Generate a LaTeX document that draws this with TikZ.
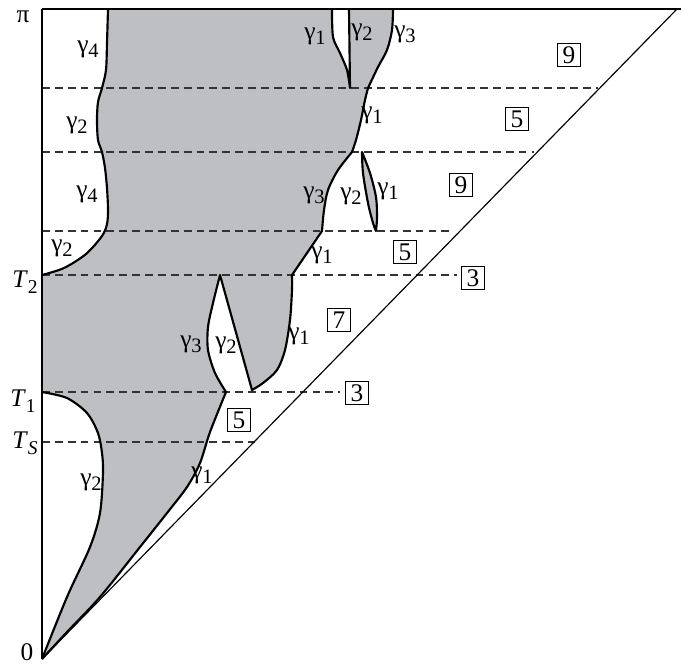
\documentclass[tikz,border=0pt]{standalone}
\usepackage{fontspec}
\setmainfont{Liberation Serif}
\definecolor{domgray}{RGB}{190,191,194}
\newcommand{\gm}[1]{γ\raisebox{-0.2em}{\fontsize{10.5}{10.5}\selectfont #1}}
\newcommand{\Tl}[1]{\textit{T}\raisebox{-0.25em}{\fontsize{10}{10}\selectfont #1}}

\begin{document}
\begin{tikzpicture}[x=0.018cm,y=-0.018cm,thick,font=\fontsize{13}{15}\selectfont]
  \tikzstyle{frame}=[line width=0.6pt]
  \tikzstyle{curve}=[line width=1.1pt, line join=round]
  \tikzstyle{level}=[line width=0.65pt, black!80, dash pattern=on 4pt off 2.6pt]
  \tikzstyle{regbox}=[draw, line width=0.5pt, minimum size=0.43cm, inner sep=0pt]
  \tikzstyle{lbl}=[inner sep=0pt]

  \useasboundingbox (0,0) rectangle (681,663);

  % shaded domain
  \fill[domgray] plot[smooth] coordinates {(108,9) (107,43) (106,70) (102,88) (98,102) (97,120) (98,140) (102,152) (105,168) (107,188) (108,210) (107,224) (102,236) (86,254) (64,268) (42,275)}
    -- (42,392)
    -- plot[smooth] coordinates {(42,392) (67,398) (87,413) (98,433) (102,453) (103,473) (100,513) (90,547) (67,597) (42,659)}
    -- plot[smooth] coordinates {(42,659) (67,632) (100,597) (140,547) (167,513) (187,487) (200,463) (210,432) (226,392)}
    -- plot[smooth] coordinates {(226,392) (215,373) (208,350) (208,327) (213,303) (220,275)}
    -- (252,390)
    -- plot[smooth] coordinates {(252,390) (263,383) (277,370) (285,350) (290,320) (292,290) (292,275)}
    -- (322,231)
    -- plot[smooth] coordinates {(322,231) (324,210) (328,190) (338,170) (352,152)}
    -- plot[smooth] coordinates {(352,152) (356,140) (361,120) (365,100) (368,88)}
    -- plot[smooth] coordinates {(368,88) (378,67) (387,50) (392,30) (393,9)}
    -- (349,9) -- (350,88)
    -- plot[smooth] coordinates {(350,88) (347,70) (340,53) (333,37) (332,9)}
    -- cycle;

  \draw[level] (42,88) -- (598,88);
  \draw[level] (42,152) -- (534,152);
  \draw[level] (42,231) -- (452,231);
  \draw[level] (42,275) -- (457,275);
  \draw[level] (42,392) -- (340,392);
  \draw[level] (42,442) -- (255,442);

  \draw[curve] plot[smooth] coordinates {(108,9) (107,43) (106,70) (102,88) (98,102) (97,120) (98,140) (102,152) (105,168) (107,188) (108,210) (107,224) (102,236) (86,254) (64,268) (42,275)};
  \draw[curve] plot[smooth] coordinates {(42,392) (67,398) (87,413) (98,433) (102,453) (103,473) (100,513) (90,547) (67,597) (42,659)};
  \draw[curve] plot[smooth] coordinates {(42,659) (67,632) (100,597) (140,547) (167,513) (187,487) (200,463) (210,432) (226,392)}
    -- plot[smooth] coordinates {(226,392) (215,373) (208,350) (208,327) (213,303) (220,275)}
    -- (252,390)
    -- plot[smooth] coordinates {(252,390) (263,383) (277,370) (285,350) (290,320) (292,290) (292,275)}
    -- (322,231)
    -- plot[smooth] coordinates {(322,231) (324,210) (328,190) (338,170) (352,152)}
    -- plot[smooth] coordinates {(352,152) (356,140) (361,120) (365,100) (368,88)}
    -- plot[smooth] coordinates {(368,88) (378,67) (387,50) (392,30) (393,9)};
  \draw[curve] plot[smooth] coordinates {(332,9) (333,37) (340,53) (347,70) (350,88)} -- (349,9);
  \filldraw[curve, fill=domgray] plot[smooth] coordinates {(362,152) (370,173) (376,197) (377,217) (376,231)}
    -- plot[smooth] coordinates {(376,231) (373,223) (368,203) (363,173) (362,152)} -- cycle;

  \draw[frame] (42,9) -- (681,9);
  \draw[frame] (42,9) -- (42,659);
  \draw[frame] (42,659) -- (677,9);

  \node[lbl] (pi) at (23,17) {π};
  \node[lbl] (t2) at (25,282) {\Tl{2}};
  \node[lbl] (t1) at (23,401) {\Tl{1}};
  \node[lbl] (ts) at (25,443) {\Tl{\textit{S}}};
  \node[lbl] (zero) at (27,652) {0};

  \node[lbl] (g4a) at (88,49) {\gm{4}};
  \node[lbl] (g2a) at (77,125) {\gm{2}};
  \node[lbl] (g4b) at (87,194) {\gm{4}};
  \node[lbl] (g2b) at (62,248) {\gm{2}};
  \node[lbl] (g1a) at (315,36) {\gm{1}};
  \node[lbl] (g2c) at (362,32) {\gm{2}};
  \node[lbl] (g3a) at (405,34) {\gm{3}};
  \node[lbl] (g1b) at (372,115) {\gm{1}};
  \node[lbl] (g3b) at (314,195) {\gm{3}};
  \node[lbl] (g2d) at (351,196) {\gm{2}};
  \node[lbl] (g1c) at (388,191) {\gm{1}};
  \node[lbl] (g1d) at (322,255) {\gm{1}};
  \node[lbl] (g3c) at (191,344) {\gm{3}};
  \node[lbl] (g2e) at (226,345) {\gm{2}};
  \node[lbl] (g1e) at (299,336) {\gm{1}};
  \node[lbl] (g2f) at (91,482) {\gm{2}};
  \node[lbl] (g1f) at (202,475) {\gm{1}};

  \node[regbox] (n9a) at (569,55) {9};
  \node[regbox] (n5a) at (517,119) {5};
  \node[regbox] (n9b) at (461,185) {9};
  \node[regbox] (n5b) at (405,252) {5};
  \node[regbox] (n3a) at (473,278) {3};
  \node[regbox] (n7) at (339,320) {7};
  \node[regbox] (n3b) at (357,393) {3};
  \node[regbox] (n5c) at (239,420) {5};
\end{tikzpicture}
\end{document}
